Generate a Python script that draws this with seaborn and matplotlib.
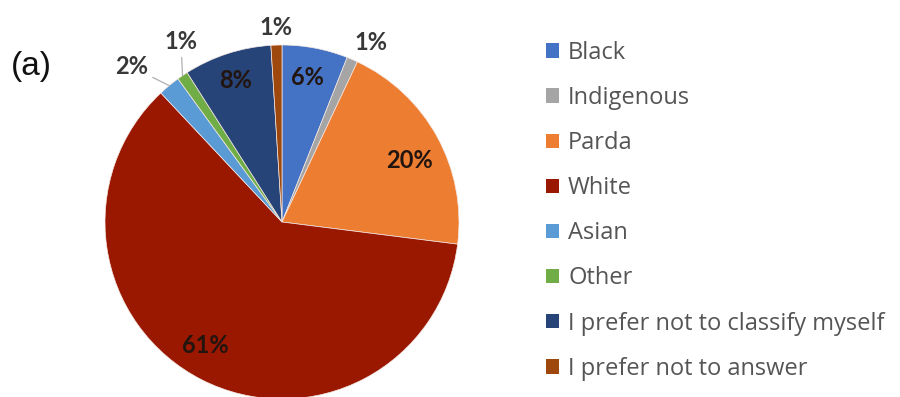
import numpy as np
import matplotlib
matplotlib.use("Agg")
import matplotlib.pyplot as plt
import seaborn as sns

# ---- data ----
categories = ["Black", "Indigenous", "Parda", "White", "Asian", "Other",
              "I prefer not to classify myself", "I prefer not to answer"]
values = [6, 1, 20, 61, 2, 1, 8, 1]
value_labels = ["6%", "1%", "20%", "61%", "2%", "1%", "8%", "1%"]

# ---- style ----
colors = ["#4472C4", "#A5A5A5", "#ED7D31", "#9A1700", "#5B9BD5", "#70AD47",
          "#264478", "#9E480E"]
# label radius (in pie radii) and small angular nudge (deg) per wedge
label_r = [0.83, 1.13, 0.80, 0.82, 1.22, 1.17, 0.84, 1.10]
label_dth = [1, -3, -3, -5, 4.5, -5, 0, 0]
leader = [False, False, False, False, True, True, False, False]

sns.set_theme(style="white")
plt.rcParams["font.family"] = ["Lato", "DejaVu Sans"]

W, H = 900, 397
fig = plt.figure(figsize=(W / 100, H / 100), dpi=100)
cx, cy, R = 282, 222, 177
ax = fig.add_axes([(cx - R) / W, (H - cy - R) / H, 2 * R / W, 2 * R / H])

wedges, _ = ax.pie(values, colors=colors, startangle=90, counterclock=False,
                   radius=1.0, wedgeprops=dict(edgecolor="#f4e8e4", linewidth=0.5))
ax.set_xlim(-1, 1)
ax.set_ylim(-1, 1)
ax.set_aspect("equal")
ax.axis("off")

for w, lab, r, dth, ld in zip(wedges, value_labels, label_r, label_dth, leader):
    mid = np.deg2rad((w.theta1 + w.theta2) / 2)
    ang = mid + np.deg2rad(dth)
    tx, ty = r * np.cos(ang), r * np.sin(ang)
    inside = r < 1
    col = "#22150f" if inside else "#383838"
    if ld:
        ax.annotate(lab, xy=(1.0 * np.cos(mid), 1.0 * np.sin(mid)),
                    xytext=(tx, ty), ha="center", va="center",
                    fontsize=17, fontweight="bold", color=col,
                    annotation_clip=False,
                    arrowprops=dict(arrowstyle="-", color="#b0b0b0", lw=0.9,
                                    shrinkA=1, shrinkB=0))
    else:
        ax.text(tx, ty, lab, ha="center", va="center", fontsize=17,
                fontweight="bold", color=col, clip_on=False)

fig.text(31 / W, 1 - 66 / H, "(a)", ha="center", va="center", fontsize=24,
         family=["Liberation Sans", "DejaVu Sans"], color="#111111")

leg = fig.legend(wedges, categories, loc="upper left",
                 bbox_to_anchor=(534 / W, 1 - 29 / H), frameon=False,
                 prop={"family": ["Open Sans", "DejaVu Sans"], "size": 17},
                 handlelength=0.56, handleheight=0.56,
                 handletextpad=0.38, labelspacing=0.895, borderpad=0,
                 labelcolor="#555555")
for p in leg.get_patches():
    p.set_edgecolor("none")

fig.savefig("out.png", dpi=100)
